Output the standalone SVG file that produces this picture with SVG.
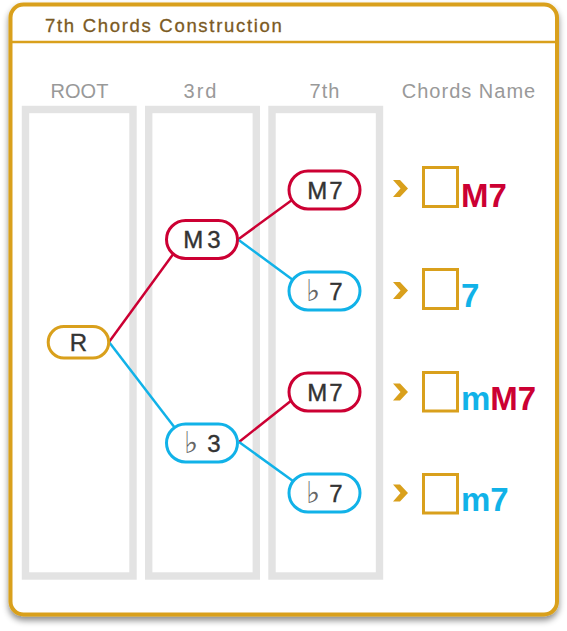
<svg xmlns="http://www.w3.org/2000/svg" width="567" height="631" viewBox="0 0 567 631">
<defs>
<filter id="sh" x="-5%" y="-5%" width="110%" height="110%">
<feDropShadow dx="0" dy="4" stdDeviation="3" flood-color="#000" flood-opacity="0.45"/>
</filter>
<style>
.col{fill:none;stroke:#e3e3e3;stroke-width:7.4}
.hdr{font-family:"Liberation Sans",Arial,sans-serif;font-size:20px;fill:#999;text-anchor:middle}
.node{fill:#fff;stroke-width:3}
.red{stroke:#cc0033}
.blue{stroke:#11b2e8}
.gold{stroke:#d9a01c}
.nt{font-family:"Liberation Sans",Arial,sans-serif;font-size:24px;fill:#333;text-anchor:middle;stroke:#333;stroke-width:0.4}
.flat{font-family:"DejaVu Sans",sans-serif;font-size:30px;fill:#666;font-weight:200}
.ln{stroke-width:2.5;fill:none}
.box{fill:none;stroke:#d9a01c;stroke-width:3}
.chev{fill:#d9a01c}
.cn{font-family:"Liberation Sans",Arial,sans-serif;font-size:33px;font-weight:bold}
.r{fill:#cc0033}
.b{fill:#11b2e8}
</style>
</defs>
<rect x="10.5" y="4.5" width="546.5" height="610" rx="13" fill="#fff" stroke="#d9a01c" stroke-width="4" filter="url(#sh)"/>
<line x1="10.5" y1="42" x2="557" y2="42" stroke="#d9a01c" stroke-width="2.5"/>
<text x="45" y="32" font-family="Liberation Sans,Arial,sans-serif" font-size="18.5" letter-spacing="1.7" fill="#7b5a23" stroke="#7b5a23" stroke-width="0.3">7th Chords Construction</text>

<g id="columns">
<rect class="col" x="25.5" y="109.5" width="107.5" height="466.5"/>
<rect class="col" x="148.7" y="109.5" width="107.6" height="466.5"/>
<rect class="col" x="272" y="109.5" width="107.5" height="466.5"/>
<text class="hdr" x="79.5" y="98">ROOT</text>
<text class="hdr" x="201" y="98" letter-spacing="2">3rd</text>
<text class="hdr" x="325" y="98" letter-spacing="1">7th</text>
<text class="hdr" x="469" y="98" letter-spacing="1">Chords Name</text>
</g>

<g id="connectors">
<line class="ln red" x1="109" y1="342" x2="174" y2="253"/>
<line class="ln blue" x1="109" y1="342" x2="175" y2="428"/>
<line class="ln red" x1="238" y1="239.5" x2="292" y2="200"/>
<line class="ln blue" x1="238" y1="239.5" x2="293" y2="280"/>
<line class="ln red" x1="239" y1="442" x2="292" y2="400"/>
<line class="ln blue" x1="239" y1="442" x2="293" y2="481"/>
</g>

<g id="node-R">
<rect class="node gold" x="48.2" y="326.5" width="60.5" height="31.5" rx="15.75"/>
<text class="nt" x="78.5" y="351">R</text>
</g>
<g id="node-M3">
<rect class="node red" x="166.5" y="220.5" width="71" height="38" rx="19"/>
<text class="nt" x="204" y="248" letter-spacing="4">M3</text>
</g>
<g id="node-b3">
<rect class="node blue" x="166.5" y="424" width="71" height="38" rx="19"/>
<text class="flat" x="184" y="453">♭</text>
<text class="nt" x="214" y="451.5">3</text>
</g>
<g id="node-M7a">
<rect class="node red" x="289" y="171" width="71" height="38" rx="19"/>
<text class="nt" x="326" y="198.5" letter-spacing="2">M7</text>
</g>
<g id="node-b7a">
<rect class="node blue" x="289" y="272" width="71" height="38" rx="19"/>
<text class="flat" x="306" y="301">♭</text>
<text class="nt" x="336" y="299.5">7</text>
</g>
<g id="node-M7b">
<rect class="node red" x="289" y="373" width="71" height="38" rx="19"/>
<text class="nt" x="326" y="400.5" letter-spacing="2">M7</text>
</g>
<g id="node-b7b">
<rect class="node blue" x="289" y="474" width="71" height="38" rx="19"/>
<text class="flat" x="306" y="503">♭</text>
<text class="nt" x="336" y="501.5">7</text>
</g>

<g id="name-M7">
<polygon class="chev" points="393,180 400,180 408,188.5 400,197 393,197 400.5,188.5"/>
<rect class="box" x="423.5" y="167.5" width="34" height="39"/>
<text class="cn r" x="461" y="207">M7</text>
</g>
<g id="name-7">
<polygon class="chev" points="393,282 400,282 408,290.5 400,299 393,299 400.5,290.5"/>
<rect class="box" x="423.5" y="269.5" width="34" height="39"/>
<text class="cn b" x="461" y="307">7</text>
</g>
<g id="name-mM7">
<polygon class="chev" points="393,383.5 400,383.5 408,392 400,400.5 393,400.5 400.5,392"/>
<rect class="box" x="423.5" y="372.5" width="34" height="38.5"/>
<text class="cn" x="461" y="410"><tspan class="b">m</tspan><tspan class="r">M7</tspan></text>
</g>
<g id="name-m7">
<polygon class="chev" points="393,484.5 400,484.5 408,493 400,501.5 393,501.5 400.5,493"/>
<rect class="box" x="423.5" y="474.5" width="34" height="38.5"/>
<text class="cn b" x="461" y="511">m7</text>
</g>
</svg>
